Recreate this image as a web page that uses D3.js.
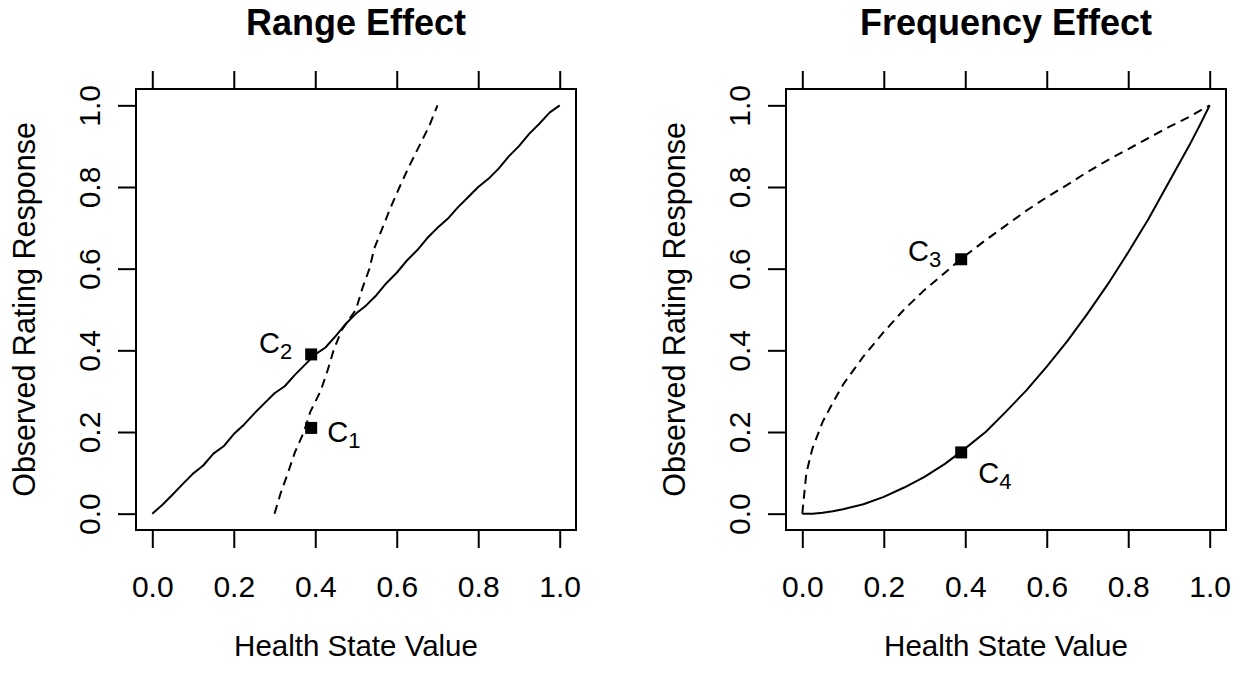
<!DOCTYPE html>
<html>
<head>
<meta charset="utf-8">
<script src="https://cdn.jsdelivr.net/npm/d3@7"></script>
<style>
  body { margin: 0; background: #fff; }
  svg { display: block; }
  text { font-family: "Liberation Sans", Arial, Helvetica, sans-serif; fill: #000; }
</style>
</head>
<body>
<svg id="chart" width="1241" height="673"></svg>
<script>
// ---------------- DATA ----------------
const titles = ["Range Effect", "Frequency Effect"];
const xAxisTitle = "Health State Value";
const yAxisTitle = "Observed Rating Response";
const tickValues = [0, 0.2, 0.4, 0.6, 0.8, 1.0];
const tickLabels = ["0.0", "0.2", "0.4", "0.6", "0.8", "1.0"];

// Range effect — solid curve
const rangeSolidX = [0, .025, .05, .075, .1, .125, .15, .175, .2, .225, .25, .275, .3, .325, .35, .375, .4, .425, .45, .475, .5, .525, .55, .575, .6, .625, .65, .675, .7, .725, .75, .775, .8, .825, .85, .875, .9, .925, .95, .975, 1.0];
const rangeSolidY = [0, .022, .047, .073, .098, .118, .147, .165, .195, .218, .245, .27, .295, .312, .34, .365, .39, .407, .435, .465, .49, .51, .535, .565, .59, .62, .645, .675, .70, .722, .75, .775, .80, .82, .845, .875, .90, .93, .955, .982, 1.0];
// Range effect — dashed curve
const rangeDashX = [.30, .315, .333, .35, .372, .388, .413, .43, .445, .465, .50, .515, .533, .545, .565, .585, .607, .63, .655, .68, .70];
const rangeDashY = [0, .05, .10, .15, .20, .25, .30, .35, .40, .45, .50, .55, .60, .65, .70, .75, .80, .85, .90, .95, 1.0];
// Frequency effect — dashed (concave) curve
const freqDashX = [0, .01, .025, .05, .075, .1, .15, .2, .25, .3, .35, .39, .45, .5, .55, .6, .65, .7, .75, .8, .85, .9, .95, 1.0];
const freqDashY = [0, .10, .16, .225, .272, .316, .385, .445, .50, .548, .59, .624, .670, .706, .742, .775, .805, .837, .866, .893, .92, .947, .972, 1.0];
// Frequency effect — solid (convex) curve
const freqSolidX = [0, .025, .05, .075, .1, .15, .2, .25, .3, .35, .39, .45, .5, .55, .6, .65, .7, .75, .8, .85, .9, .95, .975, 1.0];
const freqSolidY = [0, 0, .002, .006, .011, .023, .041, .064, .09, .122, .152, .2, .25, .302, .36, .422, .49, .562, .64, .722, .812, .902, .95, 1.0];
// Marked points
const markerSub = ["1", "2", "3", "4"];
const markerPanel = [0, 0, 1, 1];
const markerX = [0.39, 0.39, 0.39, 0.39];
const markerY = [0.21, 0.39, 0.623, 0.15];

// ---------------- LAYOUT / STYLE ----------------
const panelLeft = [136, 786];
const boxW = 440, boxTop = 89, boxH = 441;
const tickLen = 18;
const labelOffsets = [ // [dx, dy, anchor]
  [16, 14, "start"], [-19, -1, "end"], [-20, 2, "end"], [17, 31, "start"]
];

const svg = d3.select("#chart");

function panel(i, series) {
  const x0 = panelLeft[i];
  const x = d3.scaleLinear().domain([-0.04, 1.04]).range([x0, x0 + boxW]);
  const y = d3.scaleLinear().domain([-0.04, 1.04]).range([boxTop + boxH, boxTop]);
  const g = svg.append("g");

  // bottom axis
  const bAx = g.append("g").attr("transform", `translate(0,${boxTop + boxH})`)
    .call(d3.axisBottom(x).tickValues(tickValues).tickSize(tickLen)
      .tickFormat((d, k) => tickLabels[k]));
  bAx.select(".domain").remove();
  bAx.selectAll("text").attr("y", 67).attr("dy", null)
    .style("font-size", "30px");
  // top axis (ticks only)
  const tAx = g.append("g").attr("transform", `translate(0,${boxTop})`)
    .call(d3.axisTop(x).tickValues(tickValues).tickSize(tickLen).tickFormat(""));
  tAx.select(".domain").remove();
  // left axis
  const lAx = g.append("g").attr("transform", `translate(${x0},0)`)
    .call(d3.axisLeft(y).tickValues(tickValues).tickSize(tickLen)
      .tickFormat((d, k) => tickLabels[k]));
  lAx.select(".domain").remove();
  lAx.selectAll("text")
    .attr("x", null).attr("dy", null)
    .attr("text-anchor", "middle")
    .attr("transform", "translate(-36,0) rotate(-90)")
    .style("font-size", "30px");
  g.selectAll(".tick line").attr("stroke", "#000").attr("stroke-width", 2);

  // box
  g.append("rect").attr("x", x0).attr("y", boxTop).attr("width", boxW).attr("height", boxH)
    .attr("fill", "none").attr("stroke", "#000").attr("stroke-width", 2);

  // curves
  const line = d3.line().x(d => x(d[0])).y(d => y(d[1]));
  series.forEach(s => {
    const pts = s.xs.map((v, k) => [v, s.ys[k]]);
    g.append("path").datum(pts).attr("d", line)
      .attr("fill", "none").attr("stroke", "#000").attr("stroke-width", 2)
      .attr("stroke-linejoin", "round")
      .attr("stroke-dasharray", s.dashed ? "9,6" : null);
  });

  // markers + labels
  markerSub.forEach((sub, k) => {
    if (markerPanel[k] !== i) return;
    const px = x(markerX[k]), py = y(markerY[k]);
    g.append("rect").attr("x", px - 6).attr("y", py - 6).attr("width", 12).attr("height", 12).attr("fill", "#000");
    const off = labelOffsets[k];
    const t = g.append("text").attr("x", px + off[0]).attr("y", py + off[1])
      .attr("text-anchor", off[2]).style("font-size", "29px");
    t.append("tspan").text("C");
    t.append("tspan").attr("dy", 6).style("font-size", "22px").text(sub);
  });

  // titles
  const cx = x0 + boxW / 2;
  g.append("text").attr("x", cx).attr("y", 35).attr("text-anchor", "middle")
    .style("font-size", "36px").style("font-weight", "bold").text(titles[i]);
  g.append("text").attr("x", cx).attr("y", 656).attr("text-anchor", "middle")
    .style("font-size", "29.5px").text(xAxisTitle);
  g.append("text").attr("transform", `translate(${x0 - 101},${boxTop + boxH / 2}) rotate(-90)`)
    .attr("text-anchor", "middle").style("font-size", "30.5px").text(yAxisTitle);
}

panel(0, [
  { xs: rangeSolidX, ys: rangeSolidY, dashed: false },
  { xs: rangeDashX, ys: rangeDashY, dashed: true }
]);
panel(1, [
  { xs: freqDashX, ys: freqDashY, dashed: true },
  { xs: freqSolidX, ys: freqSolidY, dashed: false }
]);
</script>
</body>
</html>
